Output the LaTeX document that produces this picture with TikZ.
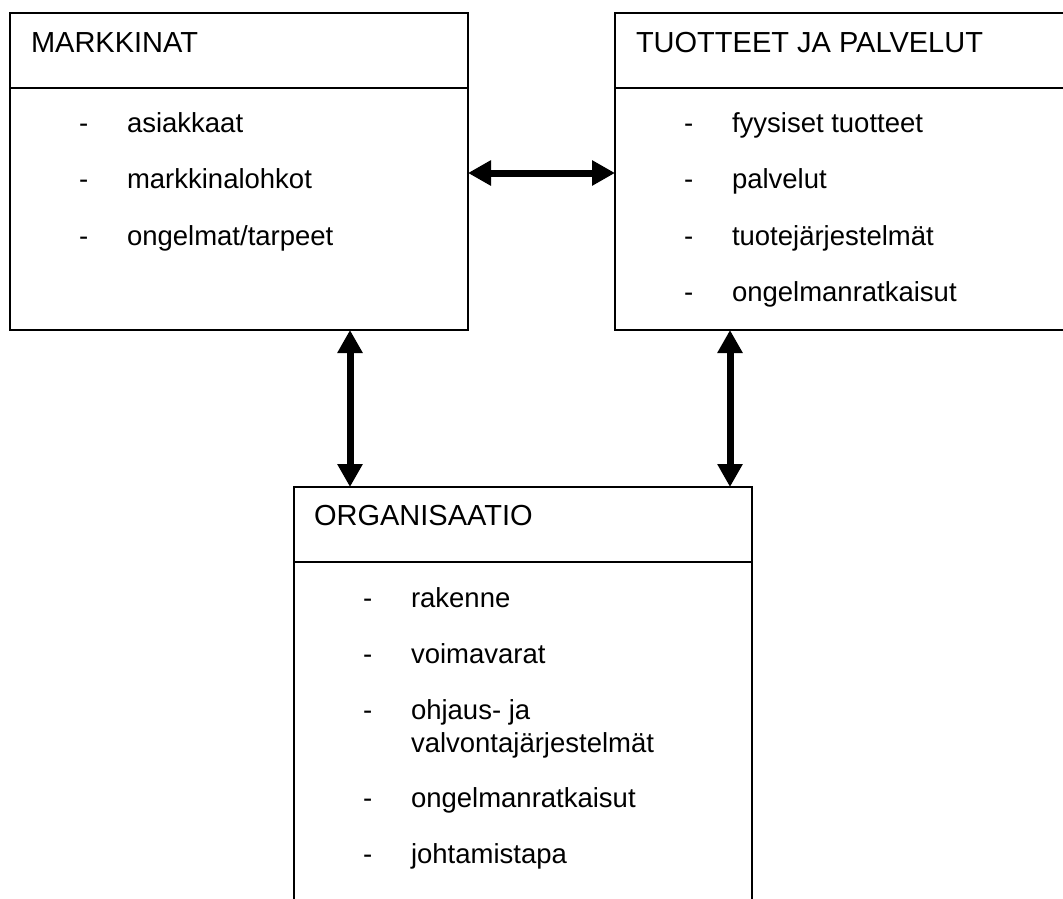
\documentclass[tikz,border=0pt]{standalone}
\usepackage{fontspec}
\setmainfont{Liberation Sans}
\usetikzlibrary{arrows.meta}
\tikzset{
  box/.style={draw, line width=2.5pt, rectangle, inner sep=0pt, outer sep=0pt},
  sepline/.style={line width=2.5pt},
  lbl/.style={anchor=base west, inner sep=0pt, outer sep=0pt, font=\fontsize{27.5}{33}\selectfont},
  ttl/.style={anchor=base west, inner sep=0pt, outer sep=0pt, font=\fontsize{29}{34}\selectfont},
  dblarrow/.style={line width=7pt, {Triangle[length=23pt,width=24pt]}-{Triangle[length=23pt,width=24pt]}},
}
\begin{document}
\begin{tikzpicture}[x=1pt,y=-1pt]
\useasboundingbox (0,0) rectangle (1063,899);
\clip (0,0) rectangle (1063,899);
\fill[white] (0,0) rectangle (1063,899);
% boxes
\node[box, minimum width=458pt, minimum height=317pt, anchor=north west] (L) at (10,13) {};
\node[box, minimum width=480pt, minimum height=317pt, anchor=north west] (R) at (615,13) {};
\node[box, minimum width=458pt, minimum height=500pt, anchor=north west] (O) at (294,487) {};
% header separators
\draw[sepline] (L.west |- 0,88) -- (L.east |- 0,88);
\draw[sepline] (R.west |- 0,88) -- (R.east |- 0,88);
\draw[sepline] (O.west |- 0,562) -- (O.east |- 0,562);
% titles
\node[ttl] (Lt) at (31,53) {MARKKINAT};
\node[ttl] (Rt) at (636,53) {TUOTTEET JA PALVELUT};
\node[ttl] (Ot) at (314,525) {ORGANISAATIO};
% left items
\node[lbl] (Ld1) at (79,132) {-}; \node[lbl] (Li1) at (127,132) {asiakkaat};
\node[lbl] (Ld2) at (79,188) {-}; \node[lbl] (Li2) at (127,188) {markkinalohkot};
\node[lbl] (Ld3) at (79,245) {-}; \node[lbl] (Li3) at (127,245) {ongelmat/tarpeet};
% right items
\node[lbl] (Rd1) at (684,132) {-}; \node[lbl] (Ri1) at (732,132) {fyysiset tuotteet};
\node[lbl] (Rd2) at (684,188) {-}; \node[lbl] (Ri2) at (732,188) {palvelut};
\node[lbl] (Rd3) at (684,245) {-}; \node[lbl] (Ri3) at (732,245) {tuotejärjestelmät};
\node[lbl] (Rd4) at (684,301) {-}; \node[lbl] (Ri4) at (732,301) {ongelmanratkaisut};
% bottom items
\node[lbl] (Od1) at (363,607) {-}; \node[lbl] (Oi1) at (411,607) {rakenne};
\node[lbl] (Od2) at (363,663) {-}; \node[lbl] (Oi2) at (411,663) {voimavarat};
\node[lbl] (Od3) at (363,719) {-}; \node[lbl] (Oi3) at (411,719) {ohjaus- ja};
\node[lbl] (Oi3b) at (411,752) {valvontajärjestelmät};
\node[lbl] (Od4) at (363,807) {-}; \node[lbl] (Oi4) at (411,807) {ongelmanratkaisut};
\node[lbl] (Od5) at (363,863) {-}; \node[lbl] (Oi5) at (411,863) {johtamistapa};
% connectors
\coordinate (vl) at (350,400);
\coordinate (vr) at (730,400);
\coordinate (hm) at (540,173);
\draw[dblarrow] (L.east |- hm) -- (R.west |- hm);
\draw[dblarrow] (L.south -| vl) -- (O.north -| vl);
\draw[dblarrow] (R.south -| vr) -- (O.north -| vr);
\end{tikzpicture}
\end{document}
